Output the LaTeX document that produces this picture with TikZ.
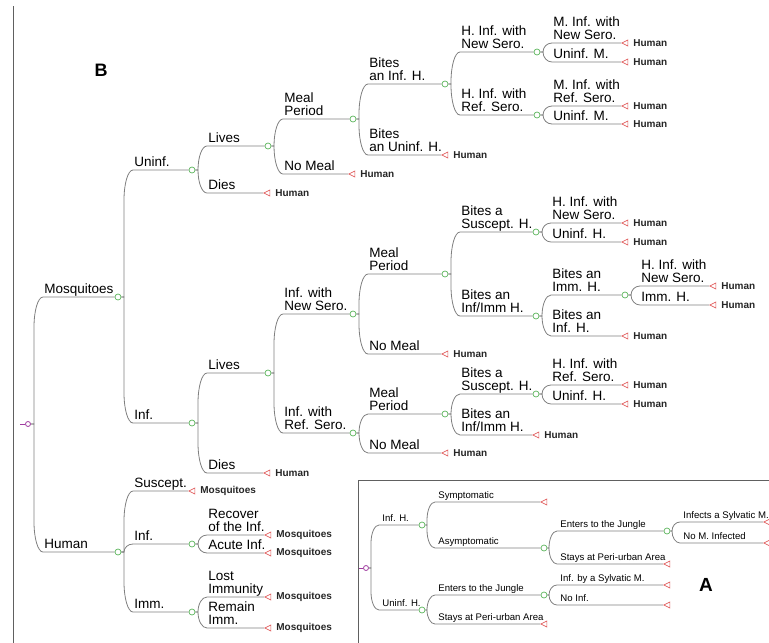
\documentclass[tikz,border=0pt]{standalone}
\usepackage{fontspec}
\setmainfont{Liberation Sans}
\usetikzlibrary{shapes.geometric,calc,backgrounds}
\definecolor{ln}{HTML}{808080}
\definecolor{fr}{HTML}{606060}
\definecolor{gn}{HTML}{5DB55D}
\definecolor{rd}{HTML}{E05A5A}
\definecolor{pu}{HTML}{A03CA0}
\begin{document}
\begin{tikzpicture}[x=1pt,y=-1pt,
  gc/.style={circle,draw=gn,fill=white,inner sep=0pt,minimum size=6pt,line width=0.7pt},
  rt/.style={isosceles triangle,isosceles triangle apex angle=60,isosceles triangle stretches,
    shape border rotate=180,draw=rd,fill=white,inner sep=0pt,minimum height=6pt,minimum width=6pt,
    line width=0.7pt},
  rm/.style={circle,draw=pu,fill=white,inner sep=0pt,minimum size=5pt,line width=0.8pt},
  edge/.style={draw=ln,line width=0.8pt},
  tl/.style={font=\fontsize{10}{10}\selectfont\bfseries,inner sep=0pt,text=black!85,xshift=5pt},
  fB/.style={font=\fontsize{13.5}{12.5}\selectfont},
  fA/.style={font=\fontsize{9.6}{10}\selectfont},
  lab/.style={pos=0,anchor=base west,inner sep=0pt,xshift=1pt,yshift=3.8pt,align=left,fB},
  laba/.style={pos=0,anchor=base west,inner sep=0pt,xshift=3pt,yshift=3.5pt,fA},
  brB/.style={to path={let \p1=(\tikztostart), \p2=(\tikztotarget),
      \n1={min(abs(\y2-\y1),30pt)}, \n2={ifthenelse(\y2>\y1,1,-1)} in
      -- (\x1+6pt,\y1) -- (\x1+6pt,{\y2-\n2*\n1})
      .. controls (\x1+6pt,{\y2-0.45*\n2*\n1}) and (\x1+10pt,\y2) .. (\x1+15pt,\y2)
      -- (\tikztotarget) \tikztonodes}},
  brA/.style={to path={let \p1=(\tikztostart), \p2=(\tikztotarget),
      \n1={min(abs(\y2-\y1),18pt)}, \n2={ifthenelse(\y2>\y1,1,-1)} in
      -- (\x1+5pt,\y1) -- (\x1+5pt,{\y2-\n2*\n1})
      .. controls (\x1+5pt,{\y2-0.45*\n2*\n1}) and (\x1+8.6pt,\y2) .. (\x1+13pt,\y2)
      -- (\tikztotarget) \tikztonodes}}
]
\useasboundingbox (0,0) rectangle (769,643);
\clip (0,0) rectangle (769,643);

% frames
\draw[fr,line width=0.9pt] (13,6) -- (13,650);
\draw[fr,line width=0.9pt] (780,480) -- (358,480) -- (358,650);

% panel letters
\node[font=\bfseries\fontsize{18}{18}\selectfont] (letB) at (101,70) {B};
\node[font=\bfseries\fontsize{19}{19}\selectfont] (letA) at (706,585) {A};

% ---------------- tree B nodes ----------------
\node[rm] (rB) at (28,424) {};
\node[gc] (mos) at (118,297) {};
\node[gc] (hum) at (118,552) {};
\node[gc] (uninf) at (192,170) {};
\node[gc] (inf) at (192,423) {};
\node[gc] (l1) at (268,146) {};
\node[rt,label={[tl]0:Human}] (d1) at (268,193) {};
\node[gc] (mp1) at (353,119) {};
\node[rt,label={[tl]0:Human}] (nm1) at (353,174) {};
\node[gc] (bih) at (445,84) {};
\node[rt,label={[tl]0:Human}] (buh) at (446,155) {};
\node[gc] (hin1) at (537,52) {};
\node[gc] (hir1) at (537,115) {};
\node[rt,label={[tl]0:Human}] (min1) at (626,43) {};
\node[rt,label={[tl]0:Human}] (um1) at (626,62) {};
\node[rt,label={[tl]0:Human}] (mir1) at (626,106) {};
\node[rt,label={[tl]0:Human}] (um2) at (626,124) {};

\node[gc] (l2) at (268,373) {};
\node[rt,label={[tl]0:Human}] (d2) at (268,473) {};
\node[gc] (iwn) at (353,314) {};
\node[gc] (iwr) at (353,433) {};
\node[gc] (mp2) at (445,274) {};
\node[rt,label={[tl]0:Human}] (nm2) at (446,354) {};
\node[gc] (bsh1) at (536,232) {};
\node[gc] (bii1) at (536,316) {};
\node[rt,label={[tl]0:Human}] (hin2) at (626,223) {};
\node[rt,label={[tl]0:Human}] (uh1) at (626,242) {};
\node[gc] (bimm) at (625,295) {};
\node[rt,label={[tl]0:Human}] (binf) at (626,336) {};
\node[rt,label={[tl]0:Human}] (hin3) at (714,286) {};
\node[rt,label={[tl]0:Human}] (imm3) at (714,305) {};
\node[gc] (mp3) at (445,414) {};
\node[rt,label={[tl]0:Human}] (nm3) at (446,453) {};
\node[gc] (bsh2) at (536,394) {};
\node[rt,label={[tl]0:Human}] (bii2) at (537,435) {};
\node[rt,label={[tl]0:Human}] (hir2) at (626,385) {};
\node[rt,label={[tl]0:Human}] (uh2) at (626,404) {};

\node[rt,label={[tl]0:Mosquitoes}] (sus) at (193,491) {};
\node[gc] (hinf) at (192,544) {};
\node[gc] (himm) at (192,612) {};
\node[rt,label={[tl]0:Mosquitoes}] (rec) at (269,535) {};
\node[rt,label={[tl]0:Mosquitoes}] (acu) at (269,553) {};
\node[rt,label={[tl]0:Mosquitoes}] (lost) at (269,597) {};
\node[rt,label={[tl]0:Mosquitoes}] (rem) at (269,628) {};

% ---------------- tree A nodes ----------------
\node[rm] (rA) at (366,568) {};
\node[gc] (ainf) at (422,525) {};
\node[gc] (auninf) at (422,610) {};
\node[rt] (asym) at (545,502) {};
\node[gc] (aasym) at (544,548) {};
\node[gc] (aej1) at (667,531) {};
\node[rt] (asp1) at (668,564) {};
\node[rt] (ainfs) at (768,522) {};
\node[rt] (anom) at (768,543) {};
\node[gc] (aej2) at (544,595) {};
\node[rt] (asp2) at (545,624) {};
\node[rt] (aibs) at (668,585) {};
\node[rt] (anoi) at (668,605) {};

\draw[pu,line width=0.8pt] (rB.west) -- ++(-5,0);
\draw[pu,line width=0.8pt] (rA.west) -- ++(-4,0);

\begin{pgfonlayer}{background}
% tree B
\draw[edge] (rB) to[brB] node[lab]{Mosquitoes} (mos);
\draw[edge] (rB) to[brB] node[lab]{Human} (hum);
\draw[edge] (mos) to[brB] node[lab]{Uninf.} (uninf);
\draw[edge] (mos) to[brB] node[lab]{Inf.} (inf);
\draw[edge] (uninf) to[brB] node[lab]{Lives} (l1);
\draw[edge] (uninf) to[brB] node[lab]{Dies} (d1);
\draw[edge] (l1) to[brB] node[lab]{Meal\\Period} (mp1);
\draw[edge] (l1) to[brB] node[lab]{No Meal} (nm1);
\draw[edge] (mp1) to[brB] node[lab]{Bites\\an Inf. H.} (bih);
\draw[edge] (mp1) to[brB] node[lab]{Bites\\an Uninf. H.} (buh);
\draw[edge] (bih) to[brB] node[lab]{H. Inf. with\\New Sero.} (hin1);
\draw[edge] (bih) to[brB] node[lab]{H. Inf. with\\Ref. Sero.} (hir1);
\draw[edge] (hin1) to[brB] node[lab]{M. Inf. with\\New Sero.} (min1);
\draw[edge] (hin1) to[brB] node[lab]{Uninf. M.} (um1);
\draw[edge] (hir1) to[brB] node[lab]{M. Inf. with\\Ref. Sero.} (mir1);
\draw[edge] (hir1) to[brB] node[lab]{Uninf. M.} (um2);

\draw[edge] (inf) to[brB] node[lab]{Lives} (l2);
\draw[edge] (inf) to[brB] node[lab]{Dies} (d2);
\draw[edge] (l2) to[brB] node[lab]{Inf. with\\New Sero.} (iwn);
\draw[edge] (l2) to[brB] node[lab]{Inf. with\\Ref. Sero.} (iwr);
\draw[edge] (iwn) to[brB] node[lab]{Meal\\Period} (mp2);
\draw[edge] (iwn) to[brB] node[lab]{No Meal} (nm2);
\draw[edge] (mp2) to[brB] node[lab]{Bites a\\Suscept. H.} (bsh1);
\draw[edge] (mp2) to[brB] node[lab]{Bites an\\Inf/Imm H.} (bii1);
\draw[edge] (bsh1) to[brB] node[lab]{H. Inf. with\\New Sero.} (hin2);
\draw[edge] (bsh1) to[brB] node[lab]{Uninf. H.} (uh1);
\draw[edge] (bii1) to[brB] node[lab]{Bites an\\Imm. H.} (bimm);
\draw[edge] (bii1) to[brB] node[lab]{Bites an\\Inf. H.} (binf);
\draw[edge] (bimm) to[brB] node[lab]{H. Inf. with\\New Sero.} (hin3);
\draw[edge] (bimm) to[brB] node[lab]{Imm. H.} (imm3);
\draw[edge] (iwr) to[brB] node[lab]{Meal\\Period} (mp3);
\draw[edge] (iwr) to[brB] node[lab]{No Meal} (nm3);
\draw[edge] (mp3) to[brB] node[lab]{Bites a\\Suscept. H.} (bsh2);
\draw[edge] (mp3) to[brB] node[lab]{Bites an\\Inf/Imm H.} (bii2);
\draw[edge] (bsh2) to[brB] node[lab]{H. Inf. with\\Ref. Sero.} (hir2);
\draw[edge] (bsh2) to[brB] node[lab]{Uninf. H.} (uh2);

\draw[edge] (hum) to[brB] node[lab]{Suscept.} (sus);
\draw[edge] (hum) to[brB] node[lab]{Inf.} (hinf);
\draw[edge] (hum) to[brB] node[lab]{Imm.} (himm);
\draw[edge] (hinf) to[brB] node[lab]{Recover\\of the Inf.} (rec);
\draw[edge] (hinf) to[brB] node[lab]{Acute Inf.} (acu);
\draw[edge] (himm) to[brB] node[lab]{Lost\\Immunity} (lost);
\draw[edge] (himm) to[brB] node[lab]{Remain\\Imm.} (rem);

% tree A
\draw[edge] (rA) to[brA] node[laba]{Inf. H.} (ainf);
\draw[edge] (rA) to[brA] node[laba]{Uninf. H.} (auninf);
\draw[edge] (ainf) to[brA] node[laba]{Symptomatic} (asym);
\draw[edge] (ainf) to[brA] node[laba]{Asymptomatic} (aasym);
\draw[edge] (aasym) to[brA] node[laba]{Enters to the Jungle} (aej1);
\draw[edge] (aasym) to[brA] node[laba]{Stays at Peri-urban Area} (asp1);
\draw[edge] (aej1) to[brA] node[laba]{Infects a Sylvatic M.} (ainfs);
\draw[edge] (aej1) to[brA] node[laba]{No M. Infected} (anom);
\draw[edge] (auninf) to[brA] node[laba]{Enters to the Jungle} (aej2);
\draw[edge] (auninf) to[brA] node[laba]{Stays at Peri-urban Area} (asp2);
\draw[edge] (aej2) to[brA] node[laba]{Inf. by a Sylvatic M.} (aibs);
\draw[edge] (aej2) to[brA] node[laba]{No Inf.} (anoi);
\end{pgfonlayer}
\end{tikzpicture}
\end{document}
